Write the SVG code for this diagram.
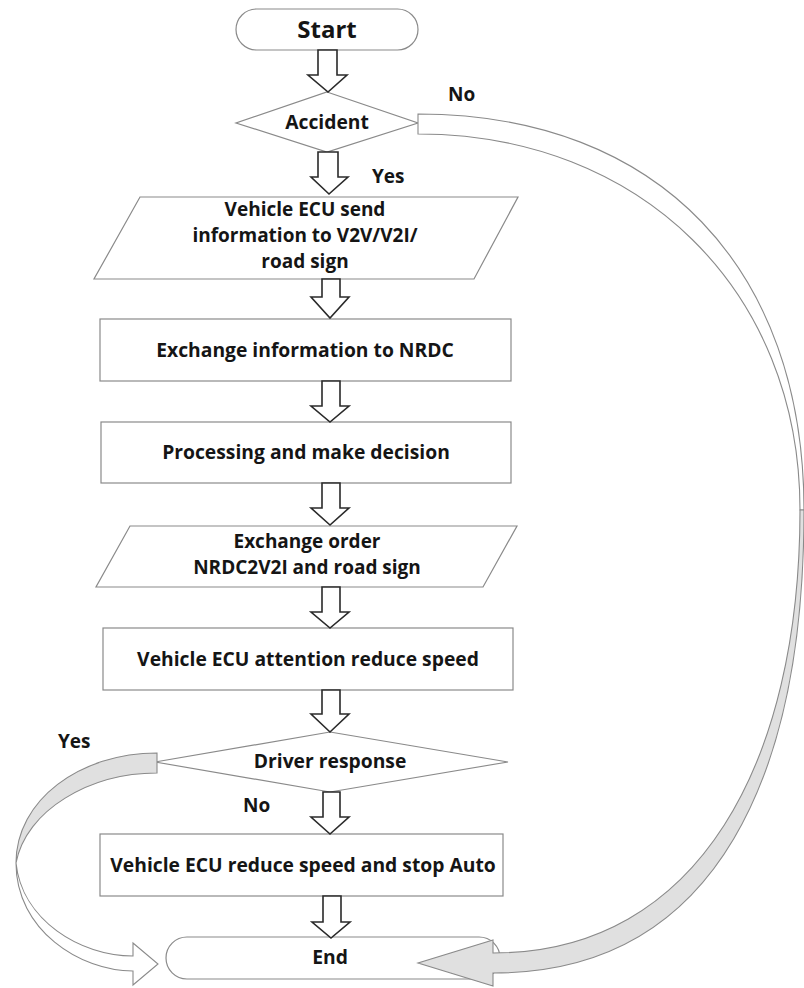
<svg xmlns="http://www.w3.org/2000/svg" width="804" height="988" viewBox="0 0 804 988">
<style>
.node{fill:#fff;stroke:#8a8a8a;stroke-width:1.2}
.t{font-family:"Open Sans","Liberation Sans",sans-serif;font-weight:bold;font-size:19.3px;fill:#151515;text-anchor:middle}
.m{font-size:19px}
.lbl{font-family:"Open Sans","Liberation Sans",sans-serif;font-weight:bold;font-size:19px;fill:#151515}
.blk{fill:#fff;stroke:#2a2a2a;stroke-width:1.6;stroke-linejoin:miter}
.bandw{fill:#fff;stroke:#8a8a8a;stroke-width:1.1}
.bandg{fill:#e0e0e0;stroke:#8a8a8a;stroke-width:1.1}
</style>
<rect width="804" height="988" fill="#fff"/>

<g id="start"><rect class="node" x="236" y="9" width="182" height="41" rx="20.5"/><text class="t" x="327" y="38" style="font-size:24px">Start</text></g>
<g id="accident"><polygon class="node" points="327,92 418,123 327,152 236,123"/><text class="t" x="327" y="129">Accident</text></g>
<g id="send"><polygon class="node" points="140,197 518,197 474,279 94,279"/><text class="t m" x="305" y="216">Vehicle ECU send</text><text class="t m" x="305" y="242">information to V2V/V2I/</text><text class="t m" x="305" y="268">road sign</text></g>
<g id="exchange"><rect class="node" x="100" y="319" width="411" height="62"/><text class="t" x="305" y="357">Exchange information to NRDC</text></g>
<g id="processing"><rect class="node" x="101" y="422" width="410" height="61"/><text class="t" x="306" y="459">Processing and make decision</text></g>
<g id="order"><polygon class="node" points="130,526 517,526 483,587 96,587"/><text class="t m" x="307" y="548">Exchange order</text><text class="t m" x="307" y="574">NRDC2V2I and road sign</text></g>
<g id="attention"><rect class="node" x="103" y="628" width="410" height="62"/><text class="t" x="308" y="666">Vehicle ECU attention reduce speed</text></g>
<g id="driver"><polygon class="node" points="330,732 508,762 330,792 155,762"/><text class="t" x="330" y="768">Driver response</text></g>
<g id="stop"><rect class="node" x="100" y="834" width="403" height="62"/><text class="t" x="303" y="872">Vehicle ECU reduce speed and stop Auto</text></g>
<g id="end"><rect class="node" x="166" y="937" width="334" height="42" rx="21"/><text class="t" x="330" y="964">End</text></g>

<g id="connectors">
<polygon class="blk" points="318,50 337,50 337,75 347,75 328,92 308,75 318,75"/>
<polygon class="blk" points="318,152 338,152 338,177 348,177 329,194 311,177 318,177"/>
<polygon class="blk" points="322,279 340,279 340,297 349,297 330,318 311,297 322,297"/>
<polygon class="blk" points="322,381 340,381 340,406 349,406 330,422 311,406 322,406"/>
<polygon class="blk" points="322,483 340,483 340,508 349,508 330,525 311,508 322,508"/>
<polygon class="blk" points="322,587 340,587 340,612 349,612 330,628 311,612 322,612"/>
<polygon class="blk" points="322,690 340,690 340,714 349,714 330,732 311,714 322,714"/>
<polygon class="blk" points="323,792 340,792 340,817 349,817 330,834 311,817 323,817"/>
<polygon class="blk" points="323,896 341,896 341,922 350,922 331,938 312,922 323,922"/>

<!-- No: Accident to End (right curved arrow) -->
<path class="bandw" d="M418,114 C660,114 804,270 804,510 L800,510 C800,290 640,134 418,134 Z"/>
<path class="bandg" d="M804,510 C804,770 720,973 493,973 L493,986 L418,963 L493,940 L493,953 C700,953 800,760 800,510 Z"/>

<!-- Yes: Driver response to End (left curved arrow) -->
<path class="bandg" d="M157,753 L157,773 C90,773 26,810 16,863 C16,800 80,753 157,753 Z"/>
<path class="bandw" d="M16,863 C16,930 80,971 133,971 L133,985 L158,964 L133,943 L133,956 C80,956 22,920 16,863 Z"/>
</g>

<text class="lbl" x="448" y="101">No</text>
<text class="lbl" x="372" y="183">Yes</text>
<text class="lbl" x="58" y="748">Yes</text>
<text class="lbl" x="243" y="812">No</text>
</svg>
